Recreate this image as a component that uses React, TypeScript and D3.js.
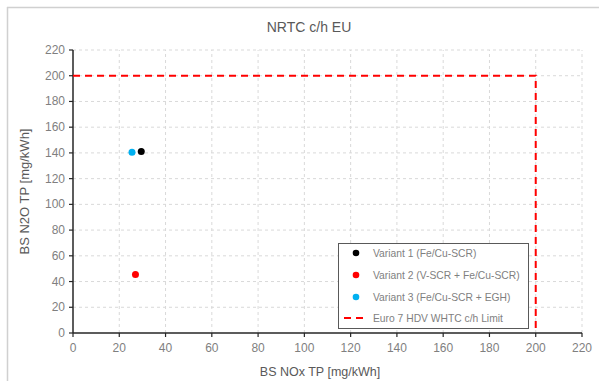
import React from "react";
import * as d3 from "d3";

const seriesNames = ["Variant 1 (Fe/Cu-SCR)", "Variant 2 (V-SCR + Fe/Cu-SCR)", "Variant 3 (Fe/Cu-SCR + EGH)"];
const seriesColors = ["#000000", "#ff0000", "#00b0f0"];
const noxValues = [29.5, 27, 25.5];
const n2oValues = [141, 45.5, 140.5];
const limitName = "Euro 7 HDV WHTC c/h Limit";
const limitNox = 200;
const limitN2o = 200;
const xTicks = [0, 20, 40, 60, 80, 100, 120, 140, 160, 180, 200, 220];
const yTicks = [0, 20, 40, 60, 80, 100, 120, 140, 160, 180, 200, 220];

export default function App() {
  const W = 599, H = 381;
  const left = 73, right = 582, top = 50, bottom = 333;
  const x = d3.scaleLinear().domain([0, 220]).range([left, right]);
  const y = d3.scaleLinear().domain([0, 220]).range([bottom, top]);
  const font = "Liberation Sans, Arial, sans-serif";
  const gray = "#7f7f7f";
  const limitPath = d3.line<[number, number]>()([
    [x(0), y(limitN2o)],
    [x(limitNox), y(limitN2o)],
    [x(limitNox), y(0)],
  ]) as string;
  const lg = { x: 338, y: 243, w: 190, h: 85 };
  const rows = [253, 275, 297, 318];
  return (
    <svg width={W} height={H} style={{ position: "absolute", left: 0, top: 0 }}>
      <rect x={0} y={0} width={W} height={H} fill="#fff" />
      <line x1={7} y1={7.5} x2={W} y2={7.5} stroke="#d0d0d0" strokeWidth={1.5} />
      <line x1={7.5} y1={7} x2={7.5} y2={H} stroke="#d0d0d0" strokeWidth={1.5} />
      <text x={309} y={32} textAnchor="middle" fontFamily={font} fontSize={14} fill="#595959">NRTC c/h EU</text>
      {xTicks.filter(t => t > 0).map(t => (
        <line key={"gx" + t} x1={x(t)} x2={x(t)} y1={y(0)} y2={y(220)} stroke="#d9d9d9" strokeDasharray="3,3" />
      ))}
      {yTicks.filter(t => t > 0).map(t => (
        <line key={"gy" + t} x1={x(0)} x2={x(220)} y1={y(t)} y2={y(t)} stroke="#d9d9d9" strokeDasharray="3,3" />
      ))}
      <line x1={x(0)} x2={x(220)} y1={y(0)} y2={y(0)} stroke="#262626" strokeWidth={1.5} />
      <line x1={x(0)} x2={x(0)} y1={y(0)} y2={y(220)} stroke="#262626" strokeWidth={1.5} />
      {xTicks.map(t => (
        <g key={"xt" + t}>
          <line x1={x(t)} x2={x(t)} y1={y(0)} y2={y(0) + 4} stroke="#262626" strokeWidth={1.2} />
          <text x={x(t)} y={y(0) + 19} textAnchor="middle" fontFamily={font} fontSize={12} fill={gray}>{t}</text>
        </g>
      ))}
      {yTicks.map(t => (
        <g key={"yt" + t}>
          <line x1={x(0) - 4} x2={x(0)} y1={y(t)} y2={y(t)} stroke="#262626" strokeWidth={1.2} />
          <text x={x(0) - 8} y={y(t) + 4} textAnchor="end" fontFamily={font} fontSize={12} fill={gray}>{t}</text>
        </g>
      ))}
      <path d={limitPath} fill="none" stroke="#ff0000" strokeWidth={2} strokeDasharray="7,5" />
      {noxValues.map((v, i) => (
        <circle key={"p" + i} cx={x(v)} cy={y(n2oValues[i])} r={3.5} fill={seriesColors[i]} />
      ))}
      <text x={320} y={376} textAnchor="middle" fontFamily={font} fontSize={12.5} fill="#595959">BS NOx TP [mg/kWh]</text>
      <text transform={`translate(29,${(top + bottom) / 2}) rotate(-90)`} textAnchor="middle" fontFamily={font} fontSize={13} fill="#595959">BS N2O TP [mg/kWh]</text>
      <rect x={lg.x + 0.5} y={lg.y + 0.5} width={lg.w} height={lg.h} fill="#fff" stroke="#595959" strokeWidth={1} />
      {seriesNames.map((n, i) => (
        <g key={"l" + i}>
          <circle cx={356} cy={rows[i]} r={3.3} fill={seriesColors[i]} />
          <text x={373} y={rows[i] + 3.5} fontFamily={font} fontSize={10.3} fill="#7f7f7f">{n}</text>
        </g>
      ))}
      <line x1={344} x2={366} y1={rows[3]} y2={rows[3]} stroke="#ff0000" strokeWidth={2} strokeDasharray="7,5" />
      <text x={373} y={rows[3] + 3.5} fontFamily={font} fontSize={10.3} fill="#7f7f7f">{limitName}</text>
    </svg>
  );
}
